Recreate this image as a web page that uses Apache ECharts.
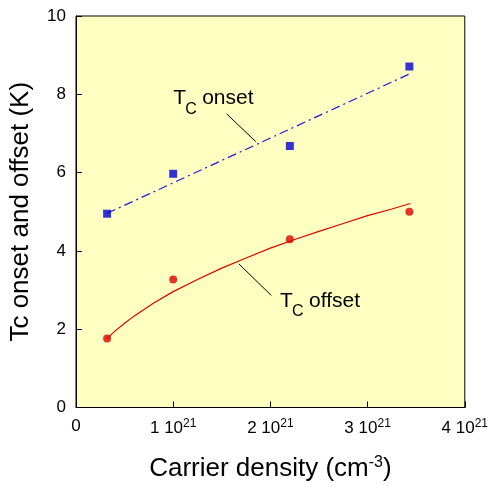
<!DOCTYPE html>
<html>
<head>
<meta charset="utf-8">
<script src="https://cdn.jsdelivr.net/npm/echarts@6/dist/echarts.min.js"></script>
<style>
  html, body { margin: 0; padding: 0; background: #fff; }
  #chart { width: 491px; height: 487px; }
</style>
</head>
<body>
<div id="chart"></div>
<script>
// carrier density in units of 1e21 cm^-3
const onsetX = [0.32, 1.0, 2.2, 3.43]
const onsetY = [4.95, 5.97, 6.68, 8.71]
const offsetX = [0.32, 1.0, 2.2, 3.43]
const offsetY = [1.76, 3.27, 4.30, 5.0]
// fitted lines
const onsetFitX = [0.32, 3.44]
const onsetFitY = [4.96, 8.53]
const offsetFitX = [0.32, 0.4, 0.5, 0.6, 0.8, 1.0, 1.25, 1.5, 1.75, 2.0, 2.25, 2.5, 2.75, 3.0, 3.25, 3.44]
const offsetFitY = [1.76, 1.95, 2.15, 2.34, 2.67, 2.96, 3.27, 3.56, 3.82, 4.07, 4.29, 4.5, 4.7, 4.9, 5.07, 5.21]
const xTicks = ['0', '1', '2', '3', '4']

const zip = (xs, ys) => xs.map((x, i) => [x, ys[i]])

const chart = echarts.init(document.getElementById('chart'))
const font = 'Liberation Sans, Arial, sans-serif'

chart.setOption({
  animation: false,
  grid: {
    left: 76, right: 22, top: 16, bottom: 76,
    show: true,
    backgroundColor: '#FFFFC2',
    borderColor: '#000',
    borderWidth: 1
  },
  xAxis: {
    type: 'value',
    min: 0, max: 4, interval: 1,
    name: 'Carrier density (cm{s|-3})',
    nameLocation: 'middle',
    nameGap: 47,
    nameTextStyle: {
      color: '#000', fontSize: 26, fontFamily: font,
      rich: { s: { fontSize: 16, padding: [0, 0, 13, 0], color: '#000', fontFamily: font } }
    },
    axisLine: { lineStyle: { color: '#000', width: 1 } },
    axisTick: { inside: true, length: 6, lineStyle: { color: '#000' } },
    splitLine: { show: false },
    axisLabel: {
      margin: 10,
      color: '#000', fontSize: 17, fontFamily: font,
      formatter: v => {
        const t = xTicks[Math.round(v)]
        return t === '0' ? '0' : t + ' 10{s|21}'
      },
      rich: { s: { fontSize: 12, padding: [0, 0, 9, 0], color: '#000', fontFamily: font } }
    }
  },
  yAxis: {
    type: 'value',
    min: 0, max: 10, interval: 2,
    name: 'Tc onset and offset (K)',
    nameLocation: 'middle',
    nameGap: 42,
    nameTextStyle: { color: '#000', fontSize: 26, fontFamily: font },
    axisLine: { show: true, lineStyle: { color: '#000', width: 1 } },
    axisTick: { show: true, inside: true, length: 6, lineStyle: { color: '#000' } },
    splitLine: { show: false },
    axisLabel: { margin: 10, color: '#000', fontSize: 17, fontFamily: font }
  },
  series: [
    {
      type: 'line',
      data: zip(onsetFitX, onsetFitY),
      showSymbol: false,
      lineStyle: { color: '#1a1ae0', width: 1.2, type: [9, 4, 2, 4] },
      z: 2
    },
    {
      type: 'line',
      data: zip(offsetFitX, offsetFitY),
      showSymbol: false,
      lineStyle: { color: '#e00000', width: 1.2 },
      z: 2
    },
    {
      type: 'scatter',
      data: zip(onsetX, onsetY),
      symbol: 'rect',
      symbolSize: 8,
      itemStyle: { color: '#0000d8' },
      z: 3
    },
    {
      type: 'scatter',
      data: zip(offsetX, offsetY),
      symbol: 'circle',
      symbolSize: 8,
      itemStyle: { color: '#dd0000' },
      z: 3
    }
  ]
})

// annotations, anchored in data coordinates
const px = p => chart.convertToPixel({ gridIndex: 0 }, p)
function label(anchor, word) {
  const [x, y] = px(anchor)
  return [
    { type: 'text', x: x, y: y, style: { text: 'T', font: '21px ' + font, fill: '#000', textVerticalAlign: 'bottom' } },
    { type: 'text', x: x + 12, y: y + 8, style: { text: 'C', font: '16px ' + font, fill: '#000', textVerticalAlign: 'bottom' } },
    { type: 'text', x: x + 29, y: y, style: { text: word, font: '21px ' + font, fill: '#000', textVerticalAlign: 'bottom' } }
  ]
}
function leader(a, b) {
  const [x1, y1] = px(a)
  const [x2, y2] = px(b)
  return { type: 'line', shape: { x1, y1, x2, y2 }, style: { stroke: '#000', lineWidth: 1 } }
}
chart.setOption({
  graphic: [
    ...label([1.0, 7.62], 'onset'),
    leader([1.55, 7.5], [1.85, 6.79]),
    ...label([2.1, 2.45], 'offset'),
    leader([1.675, 3.67], [2.01, 2.86])
  ]
})
</script>
</body>
</html>
